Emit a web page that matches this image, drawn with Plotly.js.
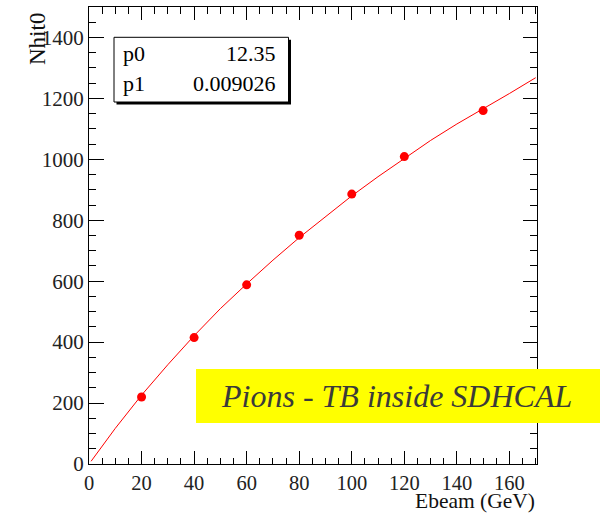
<!DOCTYPE html>
<html>
<head>
<meta charset="utf-8">
<script src="https://cdn.plot.ly/plotly-3.0.1.min.js"></script>
<style>html,body{margin:0;padding:0;background:#fff;}#chart{width:600px;height:513px;}</style>
</head>
<body>
<div id="chart"></div>
<script>
// Data points (Ebeam in GeV, Nhit0)
var ebeam = [20, 40, 60, 80, 100, 120, 150];
var nhit0 = [220, 415, 588, 751, 886, 1009, 1160];

// Fit curve
var fitE = [0.8, 10, 20, 30, 40, 50, 60, 70, 80, 90, 100, 110, 120, 130, 140, 150, 160, 170];
var fitN = [9, 117, 226, 326, 421, 510, 591, 669, 743, 813, 880, 943, 1004, 1062, 1116, 1165, 1216, 1268];

// Fit parameter table
var parNames = ["p0", "p1"];
var parValues = ["12.35", "0.009026"];

var xTitle = "Ebeam (GeV)";
var yTitle = "Nhit0";
var label = "Pions - TB inside SDHCAL";

var W = 600, H = 513;
var M = {l: 89, r: 63, t: 7, b: 49};
var PW = W - M.l - M.r, PH = H - M.t - M.b;
function px(x) { return (x - M.l) / PW; }
function py(y) { return (H - M.b - y) / PH; }

var serif = "Liberation Serif";

var traces = [
  {x: fitE, y: fitN, type: "scatter", mode: "lines",
   line: {color: "#ff0000", width: 1}, hoverinfo: "skip"},
  {x: ebeam, y: nhit0, type: "scatter", mode: "markers",
   marker: {color: "#ff0000", size: 9, symbol: "circle"}}
];

var shapes = [
  {type: "rect", xref: "paper", yref: "paper", layer: "above",
   x0: px(116.5), x1: px(291), y0: py(104.5), y1: py(39.8),
   fillcolor: "#000", line: {width: 0}},
  {type: "rect", xref: "paper", yref: "paper", layer: "above",
   x0: px(114), x1: px(288.5), y0: py(102), y1: py(37.3),
   fillcolor: "#fff", line: {color: "#000", width: 1}},
  {type: "rect", xref: "paper", yref: "paper", layer: "above",
   x0: px(196), x1: px(601), y0: py(423), y1: py(369),
   fillcolor: "#ffff00", line: {width: 0}}
];

var annotations = [];
var rowY = [53, 83];
for (var i = 0; i < parNames.length; i++) {
  annotations.push({xref: "paper", yref: "paper", x: px(121), y: py(rowY[i]),
    xanchor: "left", yanchor: "middle", showarrow: false, text: parNames[i],
    font: {family: serif, size: 22, color: "#000"}});
  annotations.push({xref: "paper", yref: "paper", x: px(278), y: py(rowY[i]),
    xanchor: "right", yanchor: "middle", showarrow: false, text: parValues[i],
    font: {family: serif, size: 22, color: "#000"}});
}
annotations.push({xref: "paper", yref: "paper", x: px(396), y: py(396),
  xanchor: "center", yanchor: "middle", showarrow: false, text: label,
  font: {family: serif, size: 32, color: "#3a3a3a", style: "italic"}});
annotations.push({xref: "paper", yref: "paper", x: 1, y: py(501),
  xanchor: "right", yanchor: "middle", showarrow: false, text: xTitle,
  font: {family: serif, size: 21.5, color: "#111"}});
annotations.push({xref: "paper", yref: "paper", x: px(37), y: py(39),
  xanchor: "center", yanchor: "middle", showarrow: false, text: yTitle, textangle: -90,
  font: {family: serif, size: 23, color: "#111"}});

var layout = {
  width: W, height: H,
  margin: M,
  paper_bgcolor: "#fff", plot_bgcolor: "#fff",
  showlegend: false,
  font: {family: serif, size: 20, color: "#222"},
  xaxis: {range: [0, 170.5], dtick: 20, tick0: 0, ticks: "inside", ticklen: 13, tickwidth: 1,
    tickcolor: "#000", showline: true, linecolor: "#000", linewidth: 1, mirror: "allticks",
    showgrid: false, zeroline: false, tickfont: {family: serif, size: 20.5, color: "#222"},
    minor: {dtick: 5, ticks: "inside", ticklen: 6.5, tickcolor: "#000", tickwidth: 1, showgrid: false}},
  yaxis: {range: [0, 1500], dtick: 200, tick0: 0, ticks: "inside", ticklen: 14.5, tickwidth: 1,
    tickcolor: "#000", showline: true, linecolor: "#000", linewidth: 1, mirror: "allticks",
    showgrid: false, zeroline: false, tickfont: {family: serif, size: 21, color: "#222"},
    minor: {dtick: 50, ticks: "inside", ticklen: 7, tickcolor: "#000", tickwidth: 1, showgrid: false}},
  shapes: shapes,
  annotations: annotations
};

Plotly.newPlot("chart", traces, layout, {displayModeBar: false, staticPlot: true});
</script>
</body>
</html>
